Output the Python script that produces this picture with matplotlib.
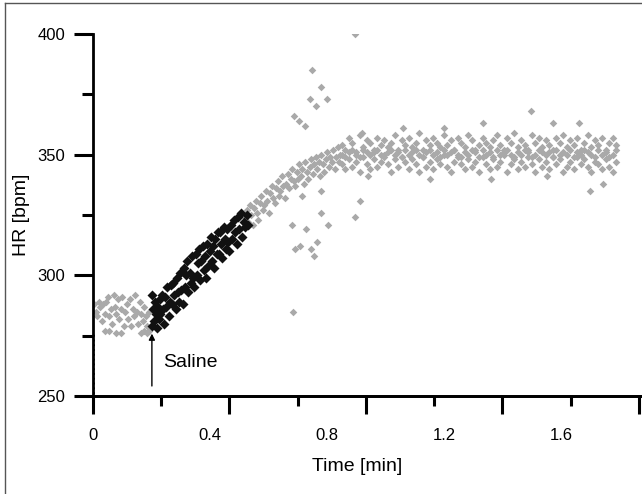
import matplotlib.pyplot as plt
from matplotlib.lines import Line2D
from matplotlib.ticker import MultipleLocator

plt.rcParams['font.family'] = ['Liberation Sans', 'DejaVu Sans']

# baseline before saline (gray)
early_t = [0.005, 0.010, 0.015, 0.020, 0.025, 0.030, 0.035, 0.040, 0.045, 0.050,
           0.055, 0.060, 0.065, 0.070, 0.075, 0.080, 0.085, 0.090, 0.095, 0.100,
           0.105, 0.110, 0.115, 0.120, 0.125, 0.130, 0.135, 0.140, 0.145, 0.150,
           0.155, 0.160, 0.165, 0.170, 0.175, 0.180, 0.185, 0.190,
           0.040, 0.055, 0.080, 0.095, 0.165, 0.175, 0.185, 0.190]
early_hr = [288, 285, 283, 289, 287, 281, 288, 284, 289, 291,
            283, 286, 280, 292, 287, 284, 290, 282, 286, 291,
            279, 285, 288, 282, 290, 279, 286, 283, 292, 285,
            280, 289, 284, 281, 287, 283, 279, 285,
            277, 277, 276, 276, 276, 277, 276, 277]

# response right after saline (black)
resp_t = [0.200, 0.203, 0.206, 0.209, 0.212, 0.215, 0.218, 0.221, 0.224, 0.227,
          0.230, 0.234, 0.238, 0.242, 0.246, 0.250, 0.254, 0.258, 0.262, 0.266,
          0.270, 0.274, 0.278, 0.282, 0.286, 0.290, 0.294, 0.298, 0.302, 0.306,
          0.310, 0.314, 0.318, 0.322, 0.326, 0.330, 0.334, 0.338, 0.342, 0.346,
          0.350, 0.354, 0.358, 0.362, 0.366, 0.370, 0.374, 0.378, 0.382, 0.386,
          0.390, 0.394, 0.398, 0.402, 0.406, 0.410, 0.414, 0.418, 0.422, 0.426,
          0.430, 0.434, 0.438, 0.442, 0.446, 0.450, 0.454, 0.458, 0.462, 0.466,
          0.470, 0.475, 0.480, 0.485, 0.490, 0.495, 0.500, 0.505, 0.510, 0.515,
          0.520, 0.525, 0.530]
resp_hr = [292, 279, 286, 281, 289, 284, 278, 287, 282, 290,
           284, 292, 286, 280, 291, 287, 295, 283, 289, 296,
           288, 297, 292, 286, 299, 293, 289, 301, 294, 288,
           303, 295, 300, 306, 293, 301, 297, 308, 299, 295,
           309, 300, 305, 311, 298, 306, 312, 302, 308, 299,
           313, 304, 310, 316, 306, 312, 303, 315, 309, 318,
           309, 318, 313, 307, 320, 315, 311, 319, 314, 310,
           321, 315, 323, 318, 313, 324, 319, 326, 316, 322,
           320, 325, 321]

# rise towards plateau (gray)
rise_t = [0.520, 0.525, 0.530, 0.535, 0.540, 0.545, 0.550, 0.555, 0.560, 0.565,
          0.570, 0.575, 0.580, 0.585, 0.590, 0.595, 0.600, 0.605, 0.610, 0.615,
          0.620, 0.625, 0.630, 0.635, 0.640, 0.645, 0.650, 0.655, 0.660, 0.665,
          0.670, 0.675, 0.680, 0.685, 0.690, 0.695, 0.700, 0.705, 0.710, 0.715,
          0.720, 0.725, 0.730, 0.735, 0.740, 0.745, 0.750, 0.755, 0.760, 0.765,
          0.770, 0.775, 0.780, 0.785, 0.790, 0.795, 0.800, 0.805, 0.810, 0.815,
          0.820, 0.825, 0.830, 0.835, 0.840, 0.845]
rise_hr = [324, 327, 322, 329, 325, 321, 328, 331, 326, 323,
           330, 333, 327, 329, 335, 331, 326, 334, 337, 332,
           330, 336, 339, 333, 335, 341, 337, 332, 338, 342,
           336, 340, 344, 339, 337, 343, 340, 346, 341, 344,
           338, 347, 343, 340, 345, 348, 342, 346, 349, 344,
           347, 341, 350, 346, 343, 348, 351, 345, 349, 347,
           352, 344, 349, 353, 347, 350]

# scattered beats around the transition
stray_t = [0.895, 0.747, 0.778, 0.740, 0.800, 0.761, 0.686, 0.703, 0.723, 0.911,
           0.894, 0.778, 0.679, 0.727, 0.802, 0.765, 0.706, 0.689, 0.744, 0.754,
           0.683, 0.780, 0.713, 0.939]
stray_hr = [400, 385, 378, 373, 373, 370, 366, 364, 362, 331,
            324, 326, 321, 319, 321, 314, 312, 311, 311, 308,
            285, 335, 333, 341]

# plateau (gray), three beats per time column
plateau_t = [0.850, 0.862, 0.874, 0.886, 0.898, 0.910, 0.922, 0.934, 0.946, 0.958,
             0.970, 0.982, 0.994, 1.006, 1.018, 1.030, 1.042, 1.054, 1.066, 1.078,
             1.090, 1.102, 1.114, 1.126, 1.138, 1.150, 1.162, 1.174, 1.186, 1.198,
             1.210, 1.222, 1.234, 1.246, 1.258, 1.270, 1.282, 1.294, 1.306, 1.318,
             1.330, 1.342, 1.354, 1.366, 1.378, 1.390, 1.402, 1.414, 1.426, 1.438,
             1.450, 1.462, 1.474, 1.486, 1.498, 1.510, 1.522, 1.534, 1.546, 1.558,
             1.570, 1.582, 1.594, 1.606, 1.618, 1.630, 1.642, 1.654, 1.666, 1.678,
             1.690, 1.702, 1.714, 1.726, 1.738, 1.750, 1.762, 1.774, 1.786]
plateau_hi = [354, 352, 357, 355, 351, 358, 353, 356, 355, 352,
              357, 354, 356, 353, 355, 358, 352, 356, 354, 357,
              353, 355, 359, 352, 356, 354, 357, 355, 353, 358,
              354, 356, 352, 357, 355, 353, 358, 356, 352, 354,
              357, 355, 353, 356, 358, 354, 352, 357, 355, 359,
              353, 356, 354, 352, 358, 355, 357, 353, 356, 354,
              352, 357, 355, 358, 353, 356, 354, 357, 352, 355,
              358, 353, 356, 354, 357, 352, 355, 357, 354]
plateau_lo = [346, 344, 348, 345, 347, 343, 349, 346, 344, 348,
              345, 347, 350, 346, 343, 348, 345, 349, 347, 344,
              348, 346, 343, 349, 345, 347, 344, 348, 346, 350,
              345, 343, 347, 349, 346, 344, 348, 345, 347, 343,
              349, 346, 344, 348, 345, 347, 350, 343, 346, 348,
              344, 347, 345, 349, 346, 343, 348, 345, 347, 344,
              349, 346, 348, 343, 345, 347, 344, 349, 346, 348,
              345, 343, 347, 346, 344, 348, 345, 343, 347]
plateau_mid = [350, 349, 351, 352, 350, 349, 352, 351, 350, 351,
               352, 350, 349, 351, 352, 350, 351, 349, 352, 350,
               351, 352, 350, 349, 351, 352, 350, 351, 349, 352,
               350, 351, 352, 350, 349, 351, 350, 352, 351, 349,
               352, 350, 351, 349, 352, 350, 351, 352, 350, 349,
               351, 350, 352, 351, 349, 350, 352, 351, 350, 351,
               349, 352, 350, 351, 350, 352, 349, 351, 350, 352,
               351, 350, 349, 352, 350, 351, 349, 350, 352]
plateau_out_t = [1.495, 1.696, 1.330, 1.570, 1.660, 0.920, 1.200, 1.740, 1.550, 1.060,
                 1.150, 1.360]
plateau_out_hr = [368, 335, 363, 363, 363, 359, 361, 338, 341, 361,
                  340, 340]

gray = '#a9a9a9'
fig = plt.figure(figsize=(6.42, 4.94), dpi=100)
ax = fig.add_axes([0.1449, 0.1984, 0.853, 0.7328])

ms_gray = 15
for t, hr in ((early_t, early_hr), (rise_t, rise_hr), (stray_t, stray_hr),
              (plateau_t, plateau_hi), (plateau_t, plateau_lo), (plateau_t, plateau_mid),
              (plateau_out_t, plateau_out_hr)):
    ax.scatter(t, hr, s=ms_gray, marker='D', color=gray, linewidths=0, zorder=2)
ax.scatter(resp_t, resp_hr, s=26, marker='D', color='#111111', linewidths=0, zorder=3)

# initial settling trace at t=0
ax.plot([0.002, 0.002], [251, 276], color='black', lw=1.3, ls=':', zorder=3)

ax.annotate('', xy=(0.201, 277), xytext=(0.201, 253),
            arrowprops=dict(arrowstyle='-|>', color='black', lw=1, mutation_scale=9))
ax.text(0.239, 264, 'Saline', fontsize=14, ha='left', va='center')

ax.set_xlim(0, 1.87)
ax.set_ylim(250, 400)
for side in ('top', 'right'):
    ax.spines[side].set_visible(False)
for side in ('left', 'bottom'):
    ax.spines[side].set_linewidth(2)

ax.yaxis.set_major_locator(MultipleLocator(50))
ax.yaxis.set_minor_locator(MultipleLocator(25))
ax.tick_params(axis='y', which='major', length=14, width=2.2, pad=6, labelsize=12)
ax.tick_params(axis='y', which='minor', length=8, width=2.2)

ax.set_xticks([0, 0.4, 0.8, 1.2, 1.6])
ax.set_xticklabels(['0', '0.4', '0.8', '1.2', '1.6'])
ax.tick_params(axis='x', which='major', length=0, pad=23, labelsize=12)

# tick marks of the original figure sit on a slightly different spacing
sec = ax.secondary_xaxis('bottom', functions=(lambda x: x * 0.8584, lambda s: s / 0.8584))
sec.xaxis.set_major_locator(MultipleLocator(0.4))
sec.xaxis.set_minor_locator(MultipleLocator(0.2))
sec.tick_params(which='major', length=13, width=2.2, labelbottom=False)
sec.tick_params(which='minor', length=7, width=2.2)
sec.spines['bottom'].set_linewidth(2)

ax.set_xlabel('Time [min]', fontsize=14)
ax.set_ylabel('HR [bpm]', fontsize=14)
ax.xaxis.set_label_coords(0.482, -0.17)
ax.yaxis.set_label_coords(-0.115, 0.5)

fig.add_artist(Line2D([0.008, 0.008], [0, 0.994], transform=fig.transFigure, color='#555555', lw=1))
fig.add_artist(Line2D([0.008, 1], [0.994, 0.994], transform=fig.transFigure, color='#555555', lw=1))

fig.savefig('out.png', dpi=100)
